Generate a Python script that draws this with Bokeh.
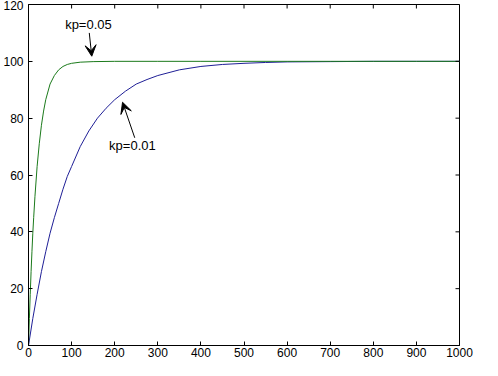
import math
from bokeh.plotting import figure
from bokeh.models import Range1d, FixedTicker, Label, Arrow, VeeHead
from bokeh.embed import file_html
from bokeh.resources import INLINE

# kp = 0.05 (green)
green_x = [0, 2, 4, 6, 8, 10, 12, 15, 20, 25, 30, 35, 40, 50, 60, 70, 80, 90, 100,
           120, 150, 200, 300, 400, 500, 600, 700, 800, 900, 1000]
green_y = [0, 9.5, 18, 26, 33, 39.5, 45, 52.5, 63, 71, 77.5, 82.5, 86.5, 92, 95, 97,
           98.2, 98.9, 99.3, 99.7, 99.9, 100, 100, 100, 100, 100, 100, 100, 100, 100]

# kp = 0.01 (blue)
blue_x = [0, 10, 20, 30, 40, 50, 60, 70, 80, 90, 100, 120, 140, 160, 180, 200, 225,
          250, 275, 300, 350, 400, 450, 500, 550, 600, 700, 800, 900, 1000]
blue_y = [0, 9.5, 18, 26, 33, 39.5, 45, 50, 55, 59.5, 63, 70, 75.5, 80, 83.5, 86.5,
          89.5, 92, 93.6, 95, 97, 98.2, 98.9, 99.3, 99.6, 99.8, 99.9, 100, 100, 100]

x_ticks = [0, 100, 200, 300, 400, 500, 600, 700, 800, 900, 1000]
y_ticks = [0, 20, 40, 60, 80, 100, 120]
x_min, x_max = 0, 1000
y_min, y_max = 0, 120

FONT = "Liberation Sans"

p = figure(width=482, height=360, output_backend="svg", toolbar_location=None,
           x_range=Range1d(x_min, x_max), y_range=Range1d(y_min, y_max),
           min_border_left=25, min_border_right=23, min_border_top=4, min_border_bottom=15,
           background_fill_color="white", border_fill_color="white")
p.outline_line_color = "black"
p.outline_line_width = 1
p.grid.visible = False

p.line(blue_x, blue_y, line_color="#1f1f96", line_width=1)
p.line(green_x, green_y, line_color="#1b7a1b", line_width=1)

for ax, ticks, standoff in ((p.xaxis[0], x_ticks, 2), (p.yaxis[0], y_ticks, 5)):
    ax.ticker = FixedTicker(ticks=ticks)
    ax.major_tick_in = 4
    ax.major_tick_out = 0
    ax.minor_tick_line_color = None
    ax.axis_line_color = "black"
    ax.major_tick_line_color = "black"
    ax.major_label_text_font = FONT
    ax.major_label_text_font_size = "12px"
    ax.major_label_text_color = "black"
    ax.major_label_standoff = standoff

# mirrored inward ticks on the top and right edges of the box (MATLAB style)
p.ray(x=x_ticks, y=[y_max] * len(x_ticks), length=4, length_units="screen",
      angle=-math.pi / 2, line_color="black", line_width=1)
p.ray(x=[x_max] * len(y_ticks), y=y_ticks, length=4, length_units="screen",
      angle=math.pi, line_color="black", line_width=1)

p.add_layout(Label(x=85, y=112.8, text="kp=0.05", text_font=FONT, text_font_size="13px",
                   text_color="black", text_baseline="middle", text_align="left"))
p.add_layout(Label(x=187, y=70.3, text="kp=0.01", text_font=FONT, text_font_size="13px",
                   text_color="black", text_baseline="middle", text_align="left"))

p.add_layout(Arrow(end=VeeHead(size=11, fill_color="black", line_color="black"),
                   x_start=141, y_start=110, x_end=146.8, y_end=101.8,
                   line_color="black", line_width=1))
p.add_layout(Arrow(end=VeeHead(size=11, fill_color="black", line_color="black"),
                   x_start=246.5, y_start=73.1, x_end=218.2, y_end=85.6,
                   line_color="black", line_width=1))

open("out.html", "w").write(file_html(p, INLINE))
